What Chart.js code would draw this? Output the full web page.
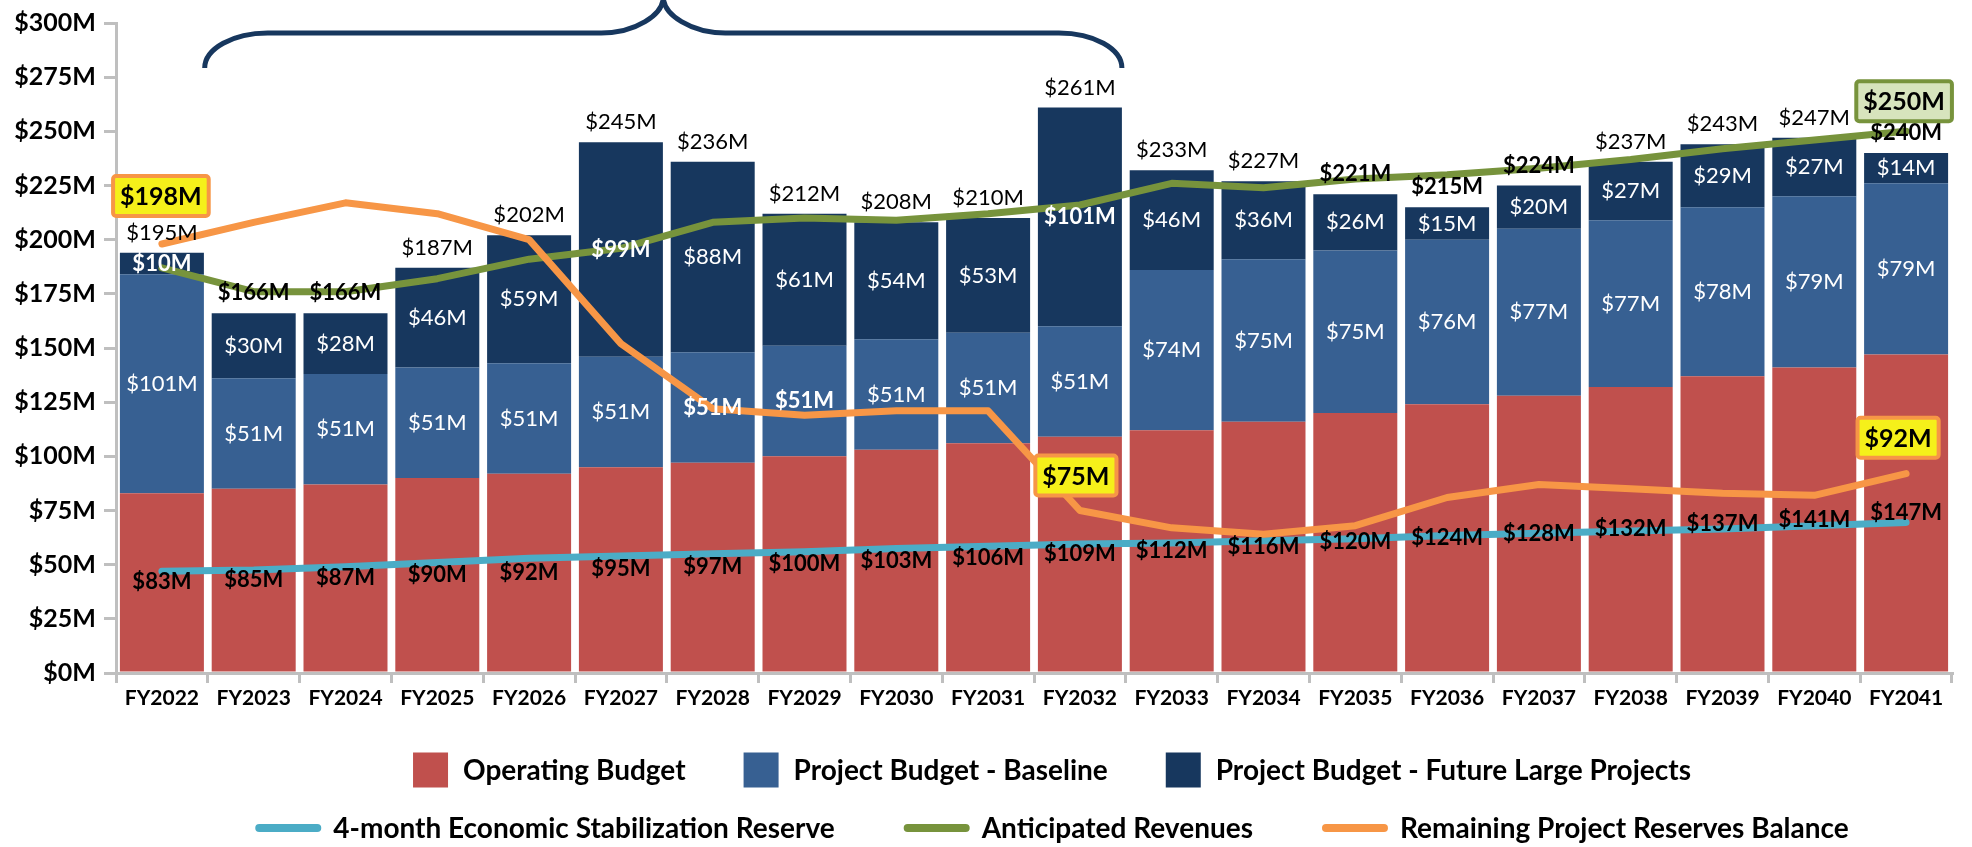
<!DOCTYPE html>
<html>
<head>
<meta charset="utf-8">
<title>Budget outlook FY2022 - FY2041</title>
<script src="https://cdn.jsdelivr.net/npm/chart.js@4.4.1/dist/chart.umd.min.js"></script>
<style>
  html, body { margin: 0; padding: 0; background: #fff; }
  #wrap { width: 1972px; height: 847px; }
</style>
</head>
<body>
<div id="wrap"><canvas id="budgetChart" width="1972" height="847"></canvas></div>
<script>
// values, in $ millions
const years = ['FY2022', 'FY2023', 'FY2024', 'FY2025', 'FY2026', 'FY2027', 'FY2028', 'FY2029', 'FY2030', 'FY2031',
  'FY2032', 'FY2033', 'FY2034', 'FY2035', 'FY2036', 'FY2037', 'FY2038', 'FY2039', 'FY2040', 'FY2041'];

const operatingBudget = [83, 85, 87, 90, 92, 95, 97, 100, 103, 106, 109, 112, 116, 120, 124, 128, 132, 137, 141, 147];
const baselineProjects = [101, 51, 51, 51, 51, 51, 51, 51, 51, 51, 51, 74, 75, 75, 76, 77, 77, 78, 79, 79];
const futureLargeProjects = [10, 30, 28, 46, 59, 99, 88, 61, 54, 53, 101, 46, 36, 26, 15, 20, 27, 29, 27, 14];
const totalLabels = [195, 166, 166, 187, 202, 245, 236, 212, 208, 210, 261, 233, 227, 221, 215, 224, 237, 243, 247, 240];

const stabilizationReserve = [47, 47.5, 49, 51, 53, 54, 55, 56, 57.5, 58.5, 59.5, 60, 61, 62, 63.5, 64.5, 65.5, 66.5, 68, 69.5];
const anticipatedRevenues = [187, 176, 176, 182, 191, 196, 208, 210, 209, 212, 216, 226, 224, 228, 230, 233, 237, 242, 246, 250];
const remainingReserves = [198, 208, 217, 212, 200, 152, 122, 119, 121, 121, 75, 67, 64, 68, 81, 87, 85, 83, 82, 92];

const yTicks = [0, 25, 50, 75, 100, 125, 150, 175, 200, 225, 250, 275, 300];

const FONT = 'Lato, "Open Sans", sans-serif';
const AXIS_GREY = '#bfbfbf';
const money = v => '$' + v + 'M';

Chart.defaults.font.family = FONT;

// $xxM inside every bar segment + the stack total on top
// (labels that a line runs through come out bold in the original)
const barLabels = {
  id: 'barLabels',
  afterDatasetsDraw(chart) {
    const ctx = chart.ctx;
    const rev = chart.getDatasetMeta(4).data;
    const bal = chart.getDatasetMeta(5).data;
    ctx.save();
    ctx.textAlign = 'center';
    ctx.textBaseline = 'middle';
    chart.data.datasets.forEach((ds, di) => {
      if (ds.type !== 'bar') return;
      chart.getDatasetMeta(di).data.forEach((bar, i) => {
        const y = (bar.y + bar.base) / 2;
        const crossed = Math.abs(rev[i].y - y) < 15 || Math.abs(bal[i].y - y) < 15;
        ctx.font = (ds.labelColor === '#000' || crossed ? 'bold ' : '') + '22px ' + FONT;
        ctx.fillStyle = ds.labelColor;
        ctx.fillText(money(ds.data[i]), bar.x, y);
      });
    });
    ctx.fillStyle = '#000';
    chart.getDatasetMeta(2).data.forEach((bar, i) => {
      const y = bar.y - 20;
      ctx.font = (Math.abs(rev[i].y - y) < 14 ? 'bold ' : '') + '22px ' + FONT;
      ctx.fillText(money(totalLabels[i]), bar.x, y);
    });
    ctx.restore();
  }
};

// highlighted boxes on a few line points
const calloutList = [
  { set: 5, index: 0, dx: -1, dy: -48, fill: '#f5f01a', edge: '#F79646' },
  { set: 5, index: 10, dx: -4, dy: -35, fill: '#f5f01a', edge: '#F79646' },
  { set: 5, index: 19, dx: -8, dy: -36, fill: '#f5f01a', edge: '#F79646' },
  { set: 4, index: 19, dx: -2, dy: -30, fill: '#d7e4bd', edge: '#77933C' }
];

const callouts = {
  id: 'callouts',
  afterDatasetsDraw(chart) {
    const ctx = chart.ctx;
    ctx.save();
    ctx.font = 'bold 25px ' + FONT;
    ctx.textAlign = 'center';
    ctx.textBaseline = 'middle';
    calloutList.forEach(c => {
      const pt = chart.getDatasetMeta(c.set).data[c.index];
      const txt = money(chart.data.datasets[c.set].data[c.index]);
      const w = ctx.measureText(txt).width + 14;
      const h = 40;
      const cx = pt.x + c.dx, cy = pt.y + c.dy;
      ctx.beginPath();
      ctx.roundRect(cx - w / 2, cy - h / 2, w, h, 3);
      ctx.fillStyle = c.fill;
      ctx.fill();
      ctx.lineWidth = 4;
      ctx.strokeStyle = c.edge;
      ctx.stroke();
      ctx.fillStyle = '#000';
      ctx.fillText(txt, cx, cy + 1);
    });
    ctx.restore();
  }
};

// curly brace over FY2023 - FY2032
const brace = {
  id: 'brace',
  afterDraw(chart) {
    const x = chart.scales.x;
    const half = chart.getDatasetMeta(0).data[1].width / 2;
    const L = x.getPixelForValue(1) - half - 7;
    const R = x.getPixelForValue(10) + half;
    const C = (L + R) / 2;
    const yLine = 33, yEnd = 68, rx = 63, k = 0.55;
    const ctx = chart.ctx;
    ctx.save();
    ctx.strokeStyle = '#17375E';
    ctx.lineWidth = 5;
    ctx.beginPath();
    ctx.moveTo(L, yEnd);
    ctx.bezierCurveTo(L, yEnd - (yEnd - yLine) * k, L + rx * (1 - k), yLine, L + rx, yLine);
    ctx.lineTo(C - 62, yLine);
    ctx.bezierCurveTo(C - 62 + 62 * k, yLine, C, yLine * (1 - k), C, -3);
    ctx.bezierCurveTo(C, yLine * (1 - k), C + 62 - 62 * k, yLine, C + 62, yLine);
    ctx.lineTo(R - rx, yLine);
    ctx.bezierCurveTo(R - rx * (1 - k), yLine, R, yEnd - (yEnd - yLine) * k, R, yEnd);
    ctx.stroke();
    ctx.restore();
  }
};

// two-row legend: boxes for the bars, short lines for the lines
const twoRowLegend = {
  id: 'twoRowLegend',
  afterDraw(chart) {
    const ctx = chart.ctx;
    const sets = chart.data.datasets;
    const rows = [
      { items: [0, 1, 2], y: 770, mark: 35, gap: 15, between: 58 },
      { items: [3, 4, 5], y: 828, mark: 66, gap: 12, between: 69 }
    ];
    const centerX = 1052;
    ctx.save();
    ctx.font = 'bold 28px ' + FONT;
    ctx.textBaseline = 'middle';
    ctx.textAlign = 'left';
    rows.forEach(row => {
      const widths = row.items.map(i => ctx.measureText(sets[i].label).width);
      const total = widths.reduce((a, b) => a + b, 0) + row.items.length * (row.mark + row.gap) + (row.items.length - 1) * row.between;
      let x = centerX - total / 2;
      row.items.forEach((i, n) => {
        const ds = sets[i];
        if (ds.type === 'bar') {
          ctx.fillStyle = ds.backgroundColor;
          ctx.fillRect(x, row.y - row.mark / 2, row.mark, row.mark);
        } else {
          ctx.strokeStyle = ds.borderColor;
          ctx.lineWidth = 8;
          ctx.lineCap = 'round';
          ctx.beginPath();
          ctx.moveTo(x + 4, row.y);
          ctx.lineTo(x + row.mark - 4, row.y);
          ctx.stroke();
        }
        ctx.fillStyle = '#000';
        ctx.fillText(ds.label, x + row.mark + row.gap, row.y + 1);
        x += row.mark + row.gap + widths[n] + row.between;
      });
    });
    ctx.restore();
  }
};

const lineStyle = { borderWidth: 7, pointRadius: 0, tension: 0, borderJoinStyle: 'round', borderCapStyle: 'round' };

new Chart(document.getElementById('budgetChart'), {
  type: 'bar',
  data: {
    labels: years,
    datasets: [
      { type: 'bar', label: 'Operating Budget', data: operatingBudget, backgroundColor: '#C0504D', labelColor: '#000', order: 2 },
      { type: 'bar', label: 'Project Budget - Baseline', data: baselineProjects, backgroundColor: '#376092', labelColor: '#fff', order: 2 },
      { type: 'bar', label: 'Project Budget - Future Large Projects', data: futureLargeProjects, backgroundColor: '#17375E', labelColor: '#fff', order: 2 },
      { type: 'line', label: '4-month Economic Stabilization Reserve', data: stabilizationReserve, borderColor: '#4BACC6', stack: 'reserve', order: 1, ...lineStyle },
      { type: 'line', label: 'Anticipated Revenues', data: anticipatedRevenues, borderColor: '#77933C', stack: 'revenue', order: 1, ...lineStyle },
      { type: 'line', label: 'Remaining Project Reserves Balance', data: remainingReserves, borderColor: '#F79646', stack: 'balance', order: 0, ...lineStyle }
    ]
  },
  options: {
    responsive: false,
    animation: false,
    devicePixelRatio: 1,
    barPercentage: 0.915,
    categoryPercentage: 1.0,
    layout: { padding: { left: 10, right: 20, top: 15, bottom: 134 } },
    plugins: {
      legend: { display: false },
      tooltip: { enabled: false }
    },
    scales: {
      x: {
        stacked: true,
        afterFit: s => { s.height = 40; },
        grid: { drawOnChartArea: false, drawTicks: true, tickLength: 10, color: AXIS_GREY, lineWidth: 3, offset: true },
        border: { color: AXIS_GREY, width: 3 },
        ticks: { color: '#000', font: { size: 21, weight: 'bold' }, padding: 3, maxRotation: 0, autoSkip: false }
      },
      y: {
        stacked: true,
        min: 0,
        max: 300,
        afterFit: s => { s.width = 106; },
        afterBuildTicks: s => { s.ticks = yTicks.map(v => ({ value: v })); },
        grid: { drawOnChartArea: false, drawTicks: true, tickLength: 12, color: AXIS_GREY, lineWidth: 3 },
        border: { color: AXIS_GREY, width: 3 },
        ticks: { color: '#000', font: { size: 25, weight: 'bold' }, padding: 8, callback: v => money(v) }
      }
    }
  },
  plugins: [barLabels, callouts, brace, twoRowLegend]
});
</script>
</body>
</html>
